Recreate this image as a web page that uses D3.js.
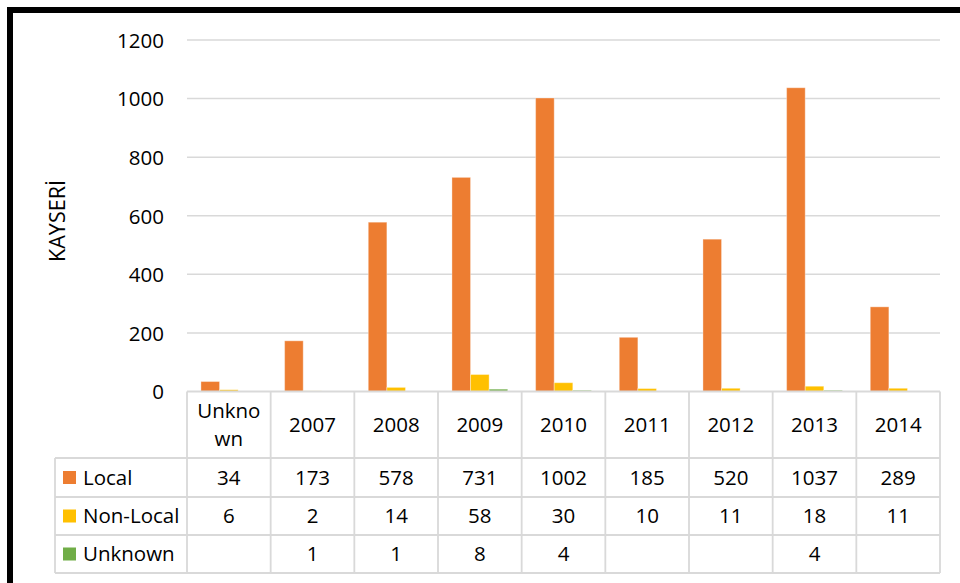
<!DOCTYPE html>
<html><head><meta charset="utf-8">
<script src="https://cdn.jsdelivr.net/npm/d3@7"></script>
<style>body{margin:0;background:#fff}svg{display:block}text{font-family:"Open Sans",sans-serif;fill:#000}</style>
</head><body><svg id="c" width="960" height="583"></svg>
<script>
const categories = ["Unknown","2007","2008","2009","2010","2011","2012","2013","2014"];
const headerLines = [["Unkno","wn"],["2007"],["2008"],["2009"],["2010"],["2011"],["2012"],["2013"],["2014"]];
const seriesNames = ["Local","Non-Local","Unknown"];
const localVals = [34,173,578,731,1002,185,520,1037,289];
const nonLocalVals = [6,2,14,58,30,10,11,18,11];
const unknownVals = [null,1,1,8,4,null,null,4,null];
const colors = ["#ED7D31","#FFC000","#70AD47"];
const yTicks = [0,200,400,600,800,1000,1200];
const yLabel = "KAYSERİ";

const series = [localVals, nonLocalVals, unknownVals];
const svg = d3.select("#c");
const L = 187, R = 940, T = 40, B = 391.5;
const FS = 20.5;
const x = d3.scaleBand().domain(categories).range([L,R]).paddingInner(0).paddingOuter(0);
const y = d3.scaleLinear().domain([0,1200]).range([B,T]);
const bw = x.bandwidth()/(3+1.5);
const xs = d3.scaleBand().domain(seriesNames).range([bw*0.75, bw*0.75+bw*3]);

// border
svg.append("rect").attr("x",10).attr("y",10).attr("width",1000).attr("height",700)
  .attr("fill","none").attr("stroke","#000").attr("stroke-width",6);

// gridlines
svg.append("g").selectAll("line").data(yTicks.filter(d=>d>0)).join("line")
  .attr("x1",L).attr("x2",R).attr("y1",d=>y(d)).attr("y2",d=>y(d))
  .attr("stroke","#d9d9d9").attr("stroke-width",1.5);

// y axis labels
const yAxis = d3.axisLeft(y).tickValues(yTicks).tickFormat(d3.format("d")).tickSize(0).tickPadding(0);
const ga = svg.append("g").attr("transform",`translate(164,0)`).call(yAxis);
ga.select(".domain").remove();
ga.selectAll("text").attr("font-size",FS).attr("font-family","'Open Sans',sans-serif").attr("fill","#000").attr("dy","0.36em");

svg.append("text").attr("transform","translate(65,221) rotate(-90)").attr("text-anchor","middle")
  .attr("font-size",21.5).text(yLabel);

// bars
series.forEach((vals,si)=>{
  svg.append("g").selectAll("rect").data(categories.map((c,i)=>({c,v:vals[i]})).filter(d=>d.v!=null)).join("rect")
    .attr("x",d=>x(d.c)+xs(seriesNames[si]))
    .attr("width",xs.bandwidth())
    .attr("y",d=>y(d.v)).attr("height",d=>B-y(d.v))
    .attr("fill",colors[si]).attr("stroke","rgba(255,255,255,0.35)").attr("stroke-width",1);
});

// table
const rowTops = [391.5,458,497,535,573];
const tl = 55;
const g = svg.append("g");
const lc = "#d9d9d9", lw = 1.8;
g.append("line").attr("x1",L).attr("x2",R).attr("y1",rowTops[0]).attr("y2",rowTops[0]).attr("stroke",lc).attr("stroke-width",lw);
rowTops.slice(1).forEach(yy=>g.append("line").attr("x1",tl).attr("x2",R).attr("y1",yy).attr("y2",yy).attr("stroke",lc).attr("stroke-width",lw));
categories.forEach(c=>g.append("line").attr("x1",x(c)).attr("x2",x(c)).attr("y1",rowTops[0]).attr("y2",rowTops[4]).attr("stroke",lc).attr("stroke-width",lw));
g.append("line").attr("x1",R).attr("x2",R).attr("y1",rowTops[0]).attr("y2",rowTops[4]).attr("stroke",lc).attr("stroke-width",lw);
g.append("line").attr("x1",tl).attr("x2",tl).attr("y1",rowTops[1]).attr("y2",rowTops[4]).attr("stroke",lc).attr("stroke-width",lw);

// header
categories.forEach((c,i)=>{
  const lines = headerLines[i];
  const cy = (rowTops[0]+rowTops[1])/2;
  lines.forEach((t,j)=>{
    g.append("text").attr("x",x(c)+x.bandwidth()/2).attr("y",cy+(j-(lines.length-1)/2)*28)
      .attr("dy","0.36em").attr("text-anchor","middle").attr("font-size",FS).text(t);
  });
});
// rows
series.forEach((vals,si)=>{
  const cy = (rowTops[si+1]+rowTops[si+2])/2;
  g.append("rect").attr("x",63).attr("y",cy-6.5).attr("width",13).attr("height",13).attr("fill",colors[si]);
  g.append("text").attr("x",83).attr("y",cy).attr("dy","0.36em").attr("font-size",FS).text(seriesNames[si]);
  categories.forEach((c,i)=>{
    if(vals[i]==null) return;
    g.append("text").attr("x",x(c)+x.bandwidth()/2).attr("y",cy).attr("dy","0.36em")
      .attr("text-anchor","middle").attr("font-size",FS).text(vals[i]);
  });
});
</script></body></html>
